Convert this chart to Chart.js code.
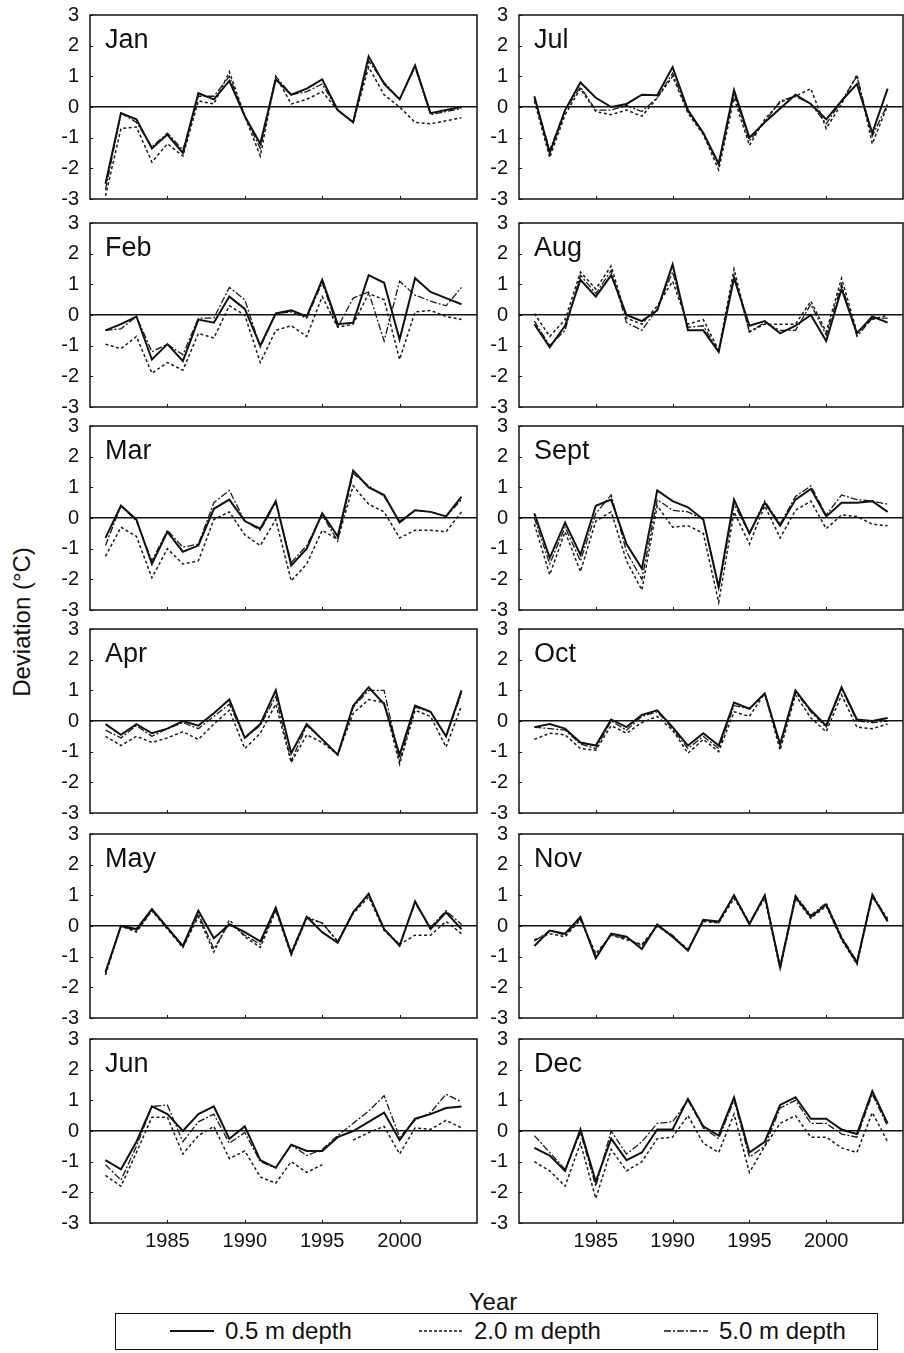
<!DOCTYPE html>
<html><head><meta charset="utf-8">
<script src="https://cdn.jsdelivr.net/npm/chart.js@4/dist/chart.umd.min.js"></script>
<style>
html,body{margin:0;padding:0;background:#fff;width:904px;height:1353px;overflow:hidden;position:relative;font-family:'Liberation Sans',Arial,sans-serif;color:#111;}
canvas.pc{position:absolute;}
#ylab{position:absolute;left:22px;top:622px;transform:translate(-50%,-50%) rotate(-90deg);font-size:24px;white-space:nowrap;}
#xlab{position:absolute;left:493px;top:1302px;transform:translate(-50%,-50%);font-size:24px;}
#legend{position:absolute;left:115px;top:1313px;width:763px;height:37px;border:1.5px solid #111;box-sizing:border-box;}
#legend .it{position:absolute;top:0;height:34px;display:flex;align-items:center;font-size:24px;white-space:nowrap;}
#legend svg{margin-right:11px;}
</style></head><body>
<div id="ylab">Deviation (°C)</div>
<div id="xlab">Year</div>
<div id="legend">
 <div class="it" style="left:54px"><svg width="44" height="6"><line x1="0" y1="3" x2="44" y2="3" stroke="#111" stroke-width="2"/></svg>0.5 m depth</div>
 <div class="it" style="left:303px"><svg width="44" height="6"><line x1="0" y1="3" x2="44" y2="3" stroke="#111" stroke-width="1.5" stroke-dasharray="3,2"/></svg>2.0 m depth</div>
 <div class="it" style="left:548px"><svg width="44" height="6"><line x1="0" y1="3" x2="44" y2="3" stroke="#111" stroke-width="1.3" stroke-dasharray="7,2,2,2"/></svg>5.0 m depth</div>
</div>
<script>
const years = [1981,1982,1983,1984,1985,1986,1987,1988,1989,1990,1991,1992,1993,1994,1995,1996,1997,1998,1999,2000,2001,2002,2003,2004];
const monthNames = ['Jan','Feb','Mar','Apr','May','Jun','Jul','Aug','Sept','Oct','Nov','Dec'];
const xTickYears = [1985,1990,1995,2000];
const yTicks = [-3,-2,-1,0,1,2,3];

const jan05 = [-2.5,-0.2,-0.4,-1.35,-0.9,-1.5,0.45,0.25,0.85,-0.3,-1.2,0.9,0.4,0.6,0.9,-0.1,-0.5,1.65,0.75,0.25,1.35,-0.2,-0.1,0.0];
const jan20 = [-2.9,-0.7,-0.65,-1.8,-1.2,-1.6,0.2,0.1,1.15,-0.3,-1.6,1.0,0.1,0.25,0.5,-0.1,-0.5,1.3,0.4,0.0,-0.5,-0.55,-0.45,-0.35];
const jan50 = [-2.7,-0.2,-0.5,-1.3,-0.85,-1.4,0.35,0.35,1.0,-0.3,-1.35,1.0,0.4,0.5,0.75,-0.1,-0.5,1.5,0.8,0.25,1.3,-0.25,-0.15,-0.05];

const feb05 = [-0.5,-0.3,-0.05,-1.45,-0.95,-1.5,-0.15,-0.25,0.6,0.2,-1.0,0.05,0.15,-0.05,1.15,-0.3,-0.25,1.3,1.05,-0.8,1.2,0.75,0.55,0.35];
const feb20 = [-0.95,-1.1,-0.7,-1.9,-1.55,-1.8,-0.6,-0.75,0.3,0.0,-1.55,-0.5,-0.35,-0.7,0.6,-0.4,-0.3,0.7,0.5,-1.45,0.1,0.15,-0.05,-0.15];
const feb50 = [-0.5,-0.45,-0.05,-1.2,-0.95,-1.3,-0.1,-0.1,0.9,0.5,-1.05,0.05,0.1,-0.1,1.05,-0.4,0.55,0.75,-0.85,1.1,0.65,0.45,0.3,0.9];

const mar05 = [-0.65,0.4,-0.05,-1.5,-0.45,-1.1,-0.9,0.3,0.6,-0.1,-0.35,0.55,-1.55,-1.0,0.15,-0.6,1.55,1.0,0.75,-0.15,0.25,0.2,0.05,0.7];
const mar20 = [-1.25,-0.3,-0.6,-1.95,-1.0,-1.5,-1.4,-0.05,0.2,-0.55,-0.9,-0.05,-2.05,-1.5,-0.4,-0.7,1.05,0.45,0.2,-0.65,-0.4,-0.4,-0.45,0.2];
const mar50 = [-0.9,0.4,-0.1,-1.4,-0.4,-0.95,-0.85,0.5,0.9,-0.1,-0.4,0.5,-1.45,-0.9,0.1,-0.75,1.45,1.05,0.7,-0.1,0.25,0.2,0.05,0.6];

const apr05 = [-0.1,-0.45,-0.1,-0.4,-0.25,0.0,-0.15,0.25,0.7,-0.55,-0.1,1.0,-1.05,-0.1,-0.6,-1.1,0.5,1.1,0.55,-1.1,0.5,0.3,-0.5,1.0];
const apr20 = [-0.5,-0.8,-0.5,-0.7,-0.55,-0.35,-0.6,-0.1,0.35,-0.9,-0.4,0.55,-1.35,-0.45,-0.7,-1.1,0.25,0.7,0.6,-1.4,0.35,0.15,-0.85,0.5];
const apr50 = [-0.3,-0.55,-0.15,-0.5,-0.25,-0.05,-0.25,0.15,0.55,-0.55,-0.15,0.8,-1.3,-0.15,-0.6,-1.1,0.45,1.0,1.0,-1.3,0.45,0.3,-0.5,0.9];

const may05 = [-1.5,0.0,-0.1,0.55,-0.05,-0.65,0.5,-0.4,0.05,-0.2,-0.5,0.6,-0.9,0.3,-0.2,-0.55,0.45,1.05,-0.1,-0.65,0.8,-0.1,0.45,-0.1];
const may20 = [-1.6,0.0,-0.2,0.5,-0.1,-0.7,0.3,-0.85,0.2,-0.35,-0.7,0.5,-0.95,0.25,0.1,-0.5,0.4,0.95,-0.15,-0.6,-0.3,-0.3,0.15,-0.25];
const may50 = [-1.55,0.0,-0.15,0.5,-0.05,-0.7,0.4,-0.75,0.1,-0.3,-0.6,0.55,-0.85,0.3,0.1,-0.5,0.45,1.05,-0.1,-0.6,0.75,-0.05,0.5,0.05];

const jun05 = [-0.95,-1.25,-0.35,0.8,0.55,0.0,0.55,0.8,-0.25,0.15,-0.95,-1.2,-0.45,-0.65,-0.65,-0.2,0.0,0.3,0.6,-0.3,0.4,0.55,0.75,0.8];
const jun20 = [-1.45,-1.8,-0.7,0.45,0.45,-0.75,-0.15,0.15,-0.9,-0.65,-1.5,-1.7,-1.0,-1.35,-1.1,null,-0.3,-0.05,0.15,-0.75,0.1,0.05,0.35,0.1];
const jun50 = [-1.1,-1.6,-0.5,0.8,0.85,-0.35,0.3,0.55,-0.4,-0.05,-1.0,-1.2,-0.45,-0.8,-0.6,-0.15,0.25,0.65,1.15,-0.2,0.35,0.6,1.2,0.95];

const jul05 = [0.35,-1.5,-0.1,0.8,0.3,0.0,0.1,0.4,0.38,1.3,-0.1,-0.85,-1.85,0.55,-1.0,-0.5,-0.05,0.4,0.1,-0.4,0.2,0.75,-0.85,0.6];
const jul20 = [0.2,-1.65,-0.25,0.6,-0.15,-0.25,-0.1,-0.3,0.3,1.0,-0.2,-0.9,-2.05,0.3,-1.25,-0.4,0.15,0.35,0.6,-0.7,0.1,1.05,-1.2,0.05];
const jul50 = [0.3,-1.4,-0.1,0.65,-0.1,-0.1,0.05,-0.15,0.3,1.1,-0.15,-0.85,-1.9,0.45,-1.1,-0.5,0.2,0.35,0.1,-0.55,0.2,1.0,-0.95,0.1];

const aug05 = [-0.3,-1.05,-0.35,1.15,0.6,1.3,0.0,-0.2,0.15,1.65,-0.5,-0.5,-1.2,1.2,-0.35,-0.2,-0.6,-0.35,0.0,-0.85,0.85,-0.6,-0.05,-0.25];
const aug20 = [0.05,-0.7,-0.15,1.4,0.85,1.6,-0.1,-0.3,0.3,1.1,-0.3,-0.15,-1.15,1.5,-0.55,-0.3,-0.3,-0.3,0.45,-0.55,1.2,-0.55,-0.15,0.0];
const aug50 = [-0.2,-1.0,-0.5,1.3,0.7,1.45,-0.25,-0.5,0.2,1.4,-0.4,-0.35,-1.2,1.3,-0.55,-0.25,-0.5,-0.5,0.35,-0.65,1.0,-0.7,-0.1,-0.1];

const sep05 = [0.15,-1.3,-0.15,-1.2,0.4,0.6,-0.85,-1.65,0.9,0.55,0.35,-0.05,-2.25,0.6,-0.5,0.5,-0.25,0.6,0.95,0.05,0.5,0.5,0.55,0.2];
const sep20 = [-0.2,-1.85,-0.45,-1.75,-0.1,0.2,-1.4,-2.35,0.4,-0.3,-0.25,-0.5,-2.75,0.2,-0.85,0.4,-0.65,0.25,0.55,-0.35,0.1,0.05,-0.2,-0.25];
const sep50 = [0.0,-1.5,-0.3,-1.4,0.15,0.75,-1.1,-2.0,0.6,0.25,0.2,-0.05,-2.3,0.45,-0.5,0.55,-0.2,0.7,1.05,0.1,0.75,0.6,0.55,0.45];

const oct05 = [-0.2,-0.1,-0.25,-0.7,-0.8,0.05,-0.2,0.2,0.35,-0.2,-0.8,-0.4,-0.8,0.6,0.4,0.9,-0.75,1.0,0.35,-0.15,1.1,0.05,0.0,0.1];
const oct20 = [-0.6,-0.4,-0.45,-0.9,-0.95,-0.15,-0.4,-0.05,0.15,-0.3,-1.05,-0.6,-1.0,0.3,0.15,0.9,-0.95,0.85,0.1,-0.35,0.85,-0.2,-0.25,-0.1];
const oct50 = [-0.2,-0.25,-0.3,-0.75,-0.9,0.0,-0.3,0.15,0.3,-0.25,-0.9,-0.5,-0.9,0.5,0.4,0.9,-0.8,0.95,0.3,-0.2,1.05,0.0,-0.05,0.0];

const nov05 = [-0.65,-0.15,-0.25,0.3,-1.05,-0.25,-0.35,-0.75,0.05,-0.35,-0.8,0.2,0.15,1.0,0.05,1.0,-1.35,0.95,0.3,0.7,-0.4,-1.2,1.0,0.15];
const nov20 = [-0.45,-0.25,-0.35,0.2,-0.9,-0.3,-0.45,-0.6,0.0,-0.35,-0.75,0.15,0.1,0.9,0.1,0.9,-1.4,0.9,0.25,0.65,-0.45,-1.25,0.95,0.25];
const nov50 = [-0.5,-0.15,-0.3,0.25,-0.95,-0.3,-0.4,-0.65,0.0,-0.3,-0.8,0.2,0.1,1.0,0.1,1.0,-1.3,1.0,0.35,0.75,-0.35,-1.15,1.05,0.2];

const dec05 = [-0.55,-0.8,-1.3,0.05,-1.65,-0.25,-0.95,-0.7,0.05,0.05,1.05,0.15,-0.15,1.1,-0.7,-0.35,0.85,1.1,0.4,0.4,0.05,-0.1,1.3,0.25];
const dec20 = [-1.0,-1.3,-1.8,-0.4,-2.2,-0.6,-1.3,-1.0,-0.25,-0.2,0.5,-0.4,-0.7,0.55,-1.35,-0.5,0.25,0.5,-0.2,-0.2,-0.55,-0.7,0.6,-0.35];
const dec50 = [-0.15,-0.7,-1.25,-0.05,-1.8,0.0,-0.75,-0.35,0.25,0.3,1.0,0.1,-0.25,1.0,-0.85,-0.5,0.75,1.0,0.25,0.25,-0.1,-0.2,1.2,0.15];

const series05 = [jan05,feb05,mar05,apr05,may05,jun05,jul05,aug05,sep05,oct05,nov05,dec05];
const series20 = [jan20,feb20,mar20,apr20,may20,jun20,jul20,aug20,sep20,oct20,nov20,dec20];
const series50 = [jan50,feb50,mar50,apr50,may50,jun50,jul50,aug50,sep50,oct50,nov50,dec50];

Chart.defaults.font.family = "'Liberation Sans', Arial, sans-serif";
Chart.defaults.color = '#111';
Chart.defaults.animation = false;

const boxPlugin = {
  id: 'box',
  afterDraw(chart, args, opts) {
    const {ctx, chartArea: a} = chart;
    const xs = chart.scales.x, ys = chart.scales.y;
    ctx.save();
    ctx.strokeStyle = '#111';
    ctx.lineWidth = 1.5;
    ctx.strokeRect(a.left, a.top, a.right - a.left, a.bottom - a.top);
    ctx.lineWidth = 1;
    xTickYears.forEach(v => {
      const px = Math.round(xs.getPixelForValue(v)) + 0.5;
      ctx.beginPath(); ctx.moveTo(px, a.bottom); ctx.lineTo(px, a.bottom - 3); ctx.stroke();
    });
    yTicks.forEach(v => {
      const py = Math.round(ys.getPixelForValue(v)) + 0.5;
      ctx.beginPath(); ctx.moveTo(a.left, py); ctx.lineTo(a.left + 3, py); ctx.stroke();
    });
    ctx.fillStyle = '#111';
    ctx.font = "27px 'Liberation Sans', Arial, sans-serif";
    ctx.textBaseline = 'alphabetic';
    ctx.textAlign = 'left';
    ctx.fillText(opts.label, a.left + 15, a.top + 33);
    ctx.restore();
  }
};

const rowTops = [15, 223, 426, 629, 834, 1039];
const plotH = 184;
const padTop = 10;
const xAxisH = 30;

function makeConfig(i, padRight, bottomRow) {
  return {
    type: 'line',
    data: {
      labels: years,
      datasets: [
        {label: '0.5 m depth', data: years.map((y, k) => ({x: y, y: series05[i][k]})), borderColor: '#111', borderWidth: 2},
        {label: '5.0 m depth', data: years.map((y, k) => ({x: y, y: series50[i][k]})), borderColor: '#1a1a1a', borderWidth: 1.3, borderDash: [7, 2, 2, 2]},
        {label: '2.0 m depth', data: years.map((y, k) => ({x: y, y: series20[i][k]})), borderColor: '#1a1a1a', borderWidth: 1.5, borderDash: [3, 2.5]}
      ]
    },
    options: {
      responsive: false,
      maintainAspectRatio: false,
      animation: false,
      spanGaps: false,
      layout: {padding: {top: padTop, right: padRight, left: 0, bottom: 0}},
      elements: {point: {radius: 0}, line: {tension: 0, fill: false}},
      plugins: {legend: {display: false}, tooltip: {enabled: false}, box: {label: monthNames[i]}},
      scales: {
        x: {
          type: 'linear', min: 1980, max: 2005,
          afterBuildTicks: s => { s.ticks = xTickYears.map(v => ({value: v})); },
          afterFit: s => { s.height = xAxisH; },
          grid: {display: false, drawTicks: false},
          border: {display: false},
          ticks: {display: bottomRow, padding: 6, font: {size: 20}, color: '#111', maxRotation: 0, callback: v => String(v)}
        },
        y: {
          min: -3, max: 3,
          afterBuildTicks: s => { s.ticks = yTicks.map(v => ({value: v})); },
          afterFit: s => { s.width = 50; },
          grid: {drawTicks: false, lineWidth: 1.5, color: c => (c.tick && c.tick.value === 0) ? '#111' : 'rgba(0,0,0,0)'},
          border: {display: false},
          ticks: {padding: 11, font: {size: 20}, color: '#111', callback: v => String(v)}
        }
      }
    },
    plugins: [boxPlugin]
  };
}

for (let i = 0; i < 12; i++) {
  const col = i < 6 ? 0 : 1;
  const row = i % 6;
  const targetLeft = col === 0 ? 90 : 519;
  const targetW = col === 0 ? 387 : 384;
  const padRight = 1;
  const bottomRow = row === 5;
  let width = 50 + targetW + padRight;
  let height = padTop + plotH + xAxisH;
  const cv = document.createElement('canvas');
  cv.className = 'pc';
  cv.width = width; cv.height = height;
  cv.style.width = width + 'px'; cv.style.height = height + 'px';
  document.body.appendChild(cv);
  let chart = new Chart(cv, makeConfig(i, padRight, bottomRow));
  let a = chart.chartArea;
  const dw = Math.round(targetW - (a.right - a.left));
  const dh = Math.round(plotH - (a.bottom - a.top));
  if (dw !== 0 || dh !== 0) {
    chart.destroy();
    width += dw; height += dh;
    cv.width = width; cv.height = height;
    cv.style.width = width + 'px'; cv.style.height = height + 'px';
    chart = new Chart(cv, makeConfig(i, padRight, bottomRow));
    a = chart.chartArea;
  }
  cv.style.left = Math.round(targetLeft - a.left) + 'px';
  cv.style.top = Math.round(rowTops[row] - a.top) + 'px';
}
</script>
</body></html>
